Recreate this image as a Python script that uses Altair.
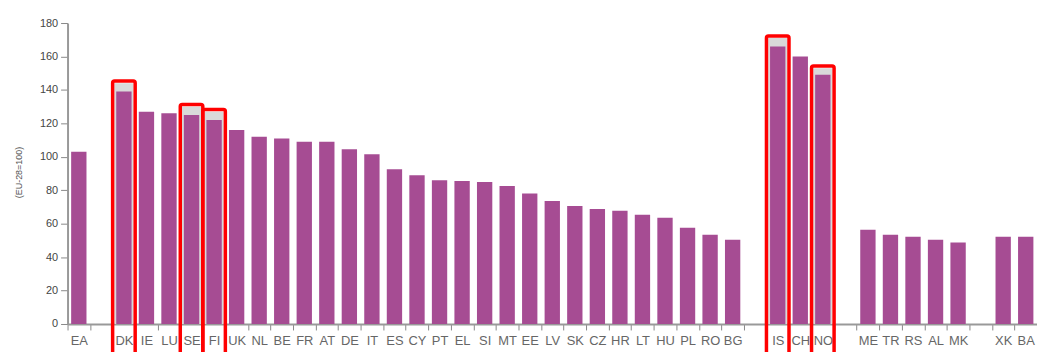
import altair as alt
import pandas as pd

# Country groups (gaps between groups are empty slots on the axis)
group_ea = ["EA"]
group_eu = ["DK", "IE", "LU", "SE", "FI", "UK", "NL", "BE", "FR", "AT", "DE", "IT",
            "ES", "CY", "PT", "EL", "SI", "MT", "EE", "LV", "SK", "CZ", "HR", "LT",
            "HU", "PL", "RO", "BG"]
group_efta = ["IS", "CH", "NO"]
group_cand = ["ME", "TR", "RS", "AL", "MK"]
group_pot = ["XK", "BA"]

values_ea = [103]
values_eu = [139, 127, 126, 125, 122, 116, 112, 111, 109, 109, 104.5, 101.5,
             92.5, 89, 86, 85.5, 85, 82.5, 78, 73.5, 70.5, 68.8, 67.7, 65.3,
             63.5, 57.5, 53.4, 50.4]
values_efta = [166, 160, 149]
values_cand = [56.4, 53.4, 52.2, 50.4, 48.7]
values_pot = [52.2, 52.2]

# Highlighted countries with their (grey) upper value
hl_countries = ["DK", "SE", "FI", "IS", "NO"]
hl_values = [144, 130, 127, 171, 153]

groups = [group_ea, group_eu, group_efta, group_cand, group_pot]
domain = []
for i, g in enumerate(groups):
    if i > 0:
        domain.append("_" + str(i))
    domain.extend(g)

countries = group_ea + group_eu + group_efta + group_cand + group_pot
values = values_ea + values_eu + values_efta + values_cand + values_pot

df = pd.DataFrame({"country": countries, "value": values})
hl = pd.DataFrame({"country": hl_countries, "value": hl_values})

xenc = alt.X(
    "country:N",
    sort=domain,
    scale=alt.Scale(domain=domain, paddingInner=0, paddingOuter=0),
    axis=alt.Axis(
        title=None,
        labelAngle=0,
        labelExpr="indexof(datum.label, '_') == 0 ? '' : datum.label",
        tickBand="extent",
        labelFont="Liberation Sans",
        labelFontSize=13,
        labelColor="#666666",
        labelPadding=5,
        tickSize=6,
        tickColor="#888888",
        domainColor="#999999",
        domainWidth=2,
        zindex=0,
        labelOverlap=False,
    ),
)

yscale = alt.Scale(domain=[0, 180], nice=False)
yaxis = alt.Axis(
    title="(EU-28=100)",
    titleFont="Liberation Sans",
    titleFontSize=9,
    titleFontWeight="normal",
    titleColor="#555555",
    titleX=-44,
    titleY=150,
    titleAngle=-90,
    values=[0, 20, 40, 60, 80, 100, 120, 140, 160, 180],
    labelFont="Liberation Sans",
    labelFontSize=11,
    labelColor="#444444",
    labelPadding=3,
    tickSize=7,
    tickColor="#888888",
    domainColor="#999999",
    domainWidth=2,
    grid=False,
    zindex=0,
)

grey = alt.Chart(hl).mark_bar(
    color="#d9d9d9", width=alt.RelativeBandSize(0.85)
).encode(
    x=xenc,
    y=alt.Y("value:Q", scale=yscale, axis=yaxis, stack=None),
)

bars = alt.Chart(df).mark_bar(
    color="#A64C93", width=alt.RelativeBandSize(0.68)
).encode(
    x=xenc,
    y=alt.Y("value:Q", scale=yscale, axis=yaxis, stack=None),
)

boxes = alt.Chart(hl).transform_calculate(
    top="datum.value + 1.3"
).mark_bar(
    fillOpacity=0,
    stroke="#ff0000",
    strokeWidth=3.5,
    cornerRadius=2,
    width=alt.RelativeBandSize(1.0),
    clip=False,
).encode(
    x=xenc,
    y=alt.Y("top:Q", scale=yscale, axis=yaxis, stack=None),
    y2=alt.datum(-25),
)

chart = alt.layer(grey, bars, boxes).properties(
    width=976,
    height=303,
    background="white",
    autosize=alt.AutoSizeParams(type="none"),
    padding={"left": 68, "top": 22, "right": 0, "bottom": 27},
).configure_view(strokeWidth=0, strokeOpacity=0)

chart.save("out.html", embed_options={"renderer": "svg", "actions": False})
